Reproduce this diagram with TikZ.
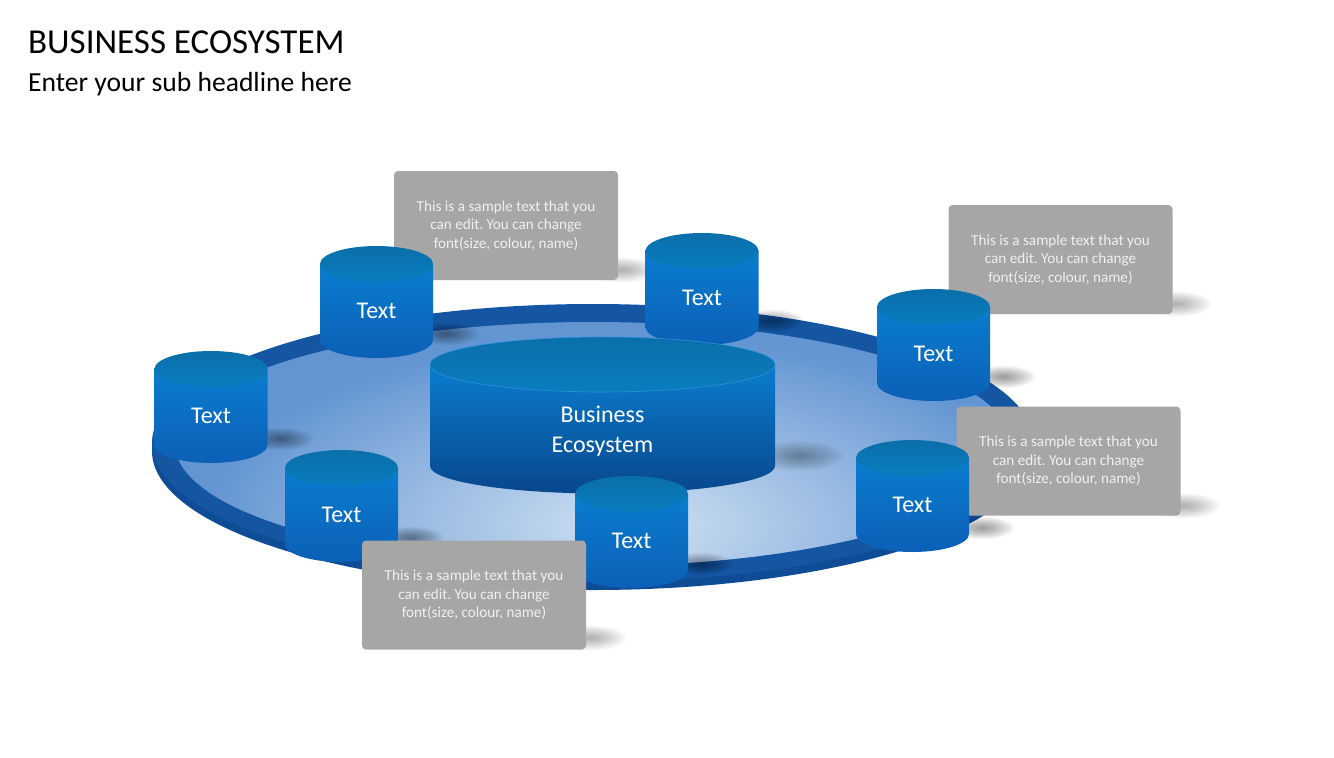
\documentclass[tikz,border=0pt]{standalone}
\usepackage{fontspec}
\setmainfont{Carlito}
\frenchspacing
\definecolor{rimblue}{HTML}{1556A2}
\definecolor{sideblue}{HTML}{0E4C96}
\definecolor{facedark}{HTML}{6395D2}
\definecolor{facelight}{HTML}{D0E1F3}
\definecolor{captop}{HTML}{0A6FAA}
\definecolor{capbot}{HTML}{0A7DBF}
\definecolor{bodytop}{HTML}{0A7DCF}
\definecolor{bodymid}{HTML}{0A80DC}
\definecolor{bodybot}{HTML}{0B60B6}
\definecolor{coremid}{HTML}{0C95EE}
\definecolor{corebot}{HTML}{08478C}
\definecolor{capline}{HTML}{2B92D6}
\definecolor{boxgrey}{HTML}{A6A6A6}
\definecolor{boxtext}{HTML}{F0F0F0}
\tikzset{
  pics/blurspot/.style={code={
    \foreach \k in {1,...,14}
      \fill[black, opacity=0.025] (0,0) ellipse [x radius=2.6*\k, y radius=0.9*\k];
  }},
  pics/smallcyl/.style={code={
    \foreach \k in {1,...,14}
      \fill[black, opacity=0.03] (70,70) ellipse [x radius=2.3*\k, y radius=0.8*\k];
    \shade[top color=bodytop, middle color=bodymid, bottom color=bodybot]
      (-56.5,0) -- (-56.5,76) arc[start angle=180, end angle=0, x radius=56.5, y radius=18] -- (56.5,0) -- cycle;
    \shade[top color=captop, bottom color=capbot] (0,0) ellipse [x radius=56.5, y radius=18];
    \node[cyltext] (-lbl) at (0,47) {#1};
  }}
}
\begin{document}
\begin{tikzpicture}[x=1pt, y=-1pt,
    cyltext/.style={text=white, inner sep=0pt, font=\fontsize{24}{30}\selectfont},
    infobox/.style={fill=boxgrey, rounded corners=4pt, minimum width=224pt, minimum height=109pt,
      inner sep=0pt, text=boxtext, align=center, font=\fontsize{15.2}{18.5}\selectfont}]
\useasboundingbox (0,0) rectangle (1334,758);
\fill[white] (0,0) rectangle (1334,758);

% headings
\node[anchor=base west, inner sep=0pt, font=\fontsize{35}{40}\selectfont] (title) at (28,53) {BUSINESS ECOSYSTEM};
\node[anchor=base west, inner sep=0pt, font=\fontsize{27.6}{32}\selectfont] (subtitle) at (28,91) {Enter your sub headline here};

% platform
\fill[sideblue] (593,451) ellipse [x radius=441, y radius=139];
\fill[rimblue] (593,443) ellipse [x radius=441, y radius=139];
\begin{scope}
  \clip (593,444) ellipse [x radius=418, y radius=122];
  \fill[facedark] (150,300) rectangle (1040,600);
  \shade[inner color=facelight, outer color=facedark] (630,525) ellipse [x radius=430, y radius=190];
\end{scope}

% back boxes
\pic at (622,270) {blurspot};
\node[infobox] (boxA) at (506,225.5) {This is a sample text that you\\can edit. You can change\\font(size, colour, name)};
\pic at (1176,304) {blurspot};
\node[infobox] (boxB) at (1060.5,259.5) {This is a sample text that you\\can edit. You can change\\font(size, colour, name)};

% back cylinders
\pic (cylB) at (702,251) {smallcyl=Text};
\pic (cylA) at (376.5,264) {smallcyl=Text};
\pic (cylC) at (933.5,307) {smallcyl=Text};

% core cylinder
\pic[scale=1.2] at (800,456) {blurspot};
\shade[top color=bodytop, middle color=coremid, bottom color=corebot]
  (430,364.5) -- (430,466) arc[start angle=180, end angle=0, x radius=172.5, y radius=27.5] -- (775,364.5) -- cycle;
\shade[top color=captop, bottom color=capbot, draw=capline, line width=0.6pt] (602.5,364.5) ellipse [x radius=172.5, y radius=27.5];
\node[cyltext, align=center] (core) at (602.5,431) {Business\\Ecosystem};

% front cylinders and boxes
\pic (cylD) at (211,369) {smallcyl=Text};
\pic at (1184,506) {blurspot};
\node[infobox] (boxC) at (1068.5,461) {This is a sample text that you\\can edit. You can change\\font(size, colour, name)};
\pic (cylG) at (912.5,458) {smallcyl=Text};
\pic (cylE) at (341.5,468) {smallcyl=Text};
\pic (cylF) at (631.5,494) {smallcyl=Text};
\pic at (590,638) {blurspot};
\node[infobox] (boxD) at (474,595) {This is a sample text that you\\can edit. You can change\\font(size, colour, name)};
\end{tikzpicture}
\end{document}
